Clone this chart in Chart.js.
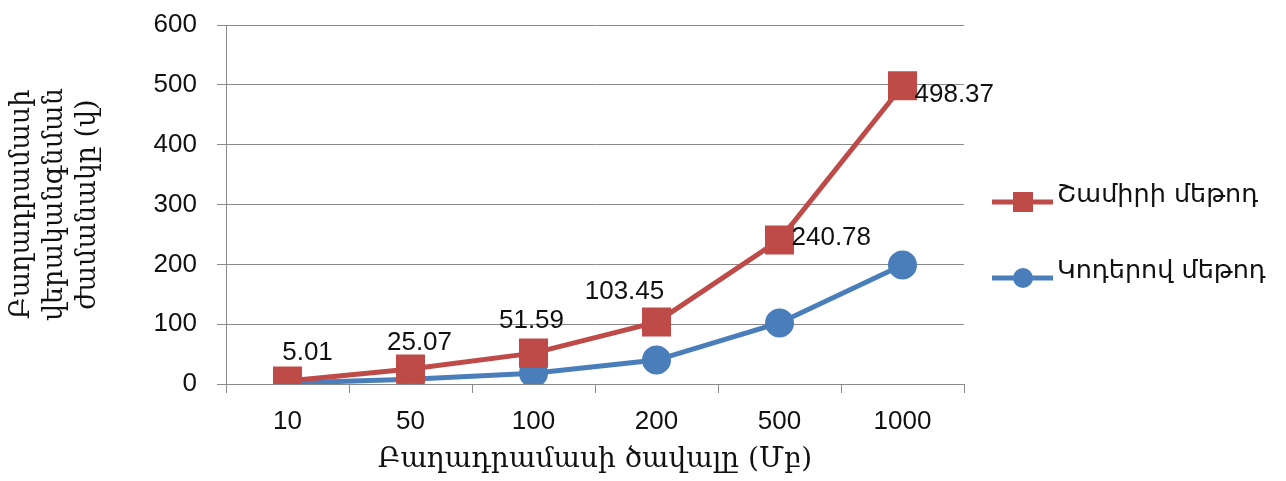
<!DOCTYPE html>
<html>
<head>
<meta charset="utf-8">
<script src="https://cdn.jsdelivr.net/npm/chart.js@4.4.1/dist/chart.umd.min.js"></script>
<style>
  html, body { margin: 0; padding: 0; background: #fff; }
  #wrap { width: 1286px; height: 481px; }
</style>
</head>
<body>
<div id="wrap"><canvas id="timeChart" width="1286" height="481"></canvas></div>
<script>
// component size (MB) and recovery time (s) for both methods
const categories = ['10', '50', '100', '200', '500', '1000'];
const shamirTimes = [5.01, 25.07, 51.59, 103.45, 240.78, 498.37];
const codeTimes = [1.5, 8, 18, 40, 102, 199];
const seriesNames = ['Շամիրի մեթոդ', 'Կոդերով մեթոդ'];

const RED = '#be4b48';
const BLUE = '#4a7ebb';
const GRID = '#8a8a8a';
const NUM_FONT = '"Liberation Sans", Arial, sans-serif';
const ARM_SANS = '"DejaVu Sans", sans-serif';
const ARM_SERIF = '"DejaVu Serif", serif';

// value labels on the red line; offsets are relative to each point
const valueLabels = {
  id: 'valueLabels',
  afterDatasetsDraw(chart, args, opts) {
    const ctx = chart.ctx;
    const meta = chart.getDatasetMeta(0);
    ctx.save();
    ctx.font = '26px ' + NUM_FONT;
    ctx.fillStyle = '#111';
    ctx.textBaseline = 'middle';
    meta.data.forEach((pt, i) => {
      const [dx, dy, align] = opts.offsets[i];
      ctx.textAlign = align;
      ctx.fillText(String(shamirTimes[i]), pt.x + dx, pt.y + dy);
    });
    ctx.restore();
  }
};

// legend on the right: short line with the series marker in the middle
const sideLegend = {
  id: 'sideLegend',
  afterDraw(chart) {
    const ctx = chart.ctx;
    const x0 = 992, x1 = 1053, mid = 1023;
    const rows = [202, 278];
    ctx.save();
    chart.data.datasets.forEach((ds, i) => {
      const y = rows[i];
      ctx.strokeStyle = ds.borderColor;
      ctx.lineWidth = 5;
      ctx.beginPath();
      ctx.moveTo(x0, y);
      ctx.lineTo(x1, y);
      ctx.stroke();
      ctx.fillStyle = ds.backgroundColor;
      if (ds.pointStyle === 'rect') {
        ctx.fillRect(mid - 10, y - 10, 20, 20);
      } else {
        ctx.beginPath();
        ctx.arc(mid, y, 10, 0, Math.PI * 2);
        ctx.fill();
      }
      ctx.fillStyle = '#111';
      ctx.font = '25.5px ' + ARM_SANS;
      ctx.textAlign = 'left';
      ctx.fillText(ds.label, 1057, y);
    });
    ctx.restore();
  }
};

const ctx = document.getElementById('timeChart').getContext('2d');
const timeChart = new Chart(ctx, {
  type: 'line',
  data: {
    labels: categories,
    datasets: [{
      label: seriesNames[0],
      data: shamirTimes,
      borderColor: RED,
      backgroundColor: RED,
      borderWidth: 5,
      pointStyle: 'rect',
      pointRadius: 17,
      pointHoverRadius: 17,
      tension: 0
    }, {
      label: seriesNames[1],
      data: codeTimes,
      borderColor: BLUE,
      backgroundColor: BLUE,
      borderWidth: 5,
      pointStyle: 'circle',
      pointRadius: 12,
      pointHoverRadius: 12,
      tension: 0
    }]
  },
  options: {
    responsive: false,
    animation: false,
    layout: {
      autoPadding: false,
      padding: { left: 6, top: 25, right: 322, bottom: 4 }
    },
    plugins: {
      legend: { display: false },
      tooltip: { enabled: false },
      valueLabels: {
        offsets: [
          [20, -28, 'center'],
          [9, -26, 'center'],
          [-2, -32, 'center'],
          [-32, -30, 'center'],
          [12, -2, 'left'],
          [12, 9, 'left']
        ]
      }
    },
    scales: {
      x: {
        offset: true,
        afterFit: s => { s.height = 93; s.paddingLeft = 0; s.paddingRight = 0; },
        grid: {
          offset: true,
          drawOnChartArea: false,
          drawTicks: true,
          tickLength: 9,
          color: GRID
        },
        border: { color: GRID, width: 1 },
        ticks: {
          font: { family: NUM_FONT, size: 26 },
          color: '#111',
          padding: 13
        },
        title: {
          display: true,
          text: 'Բաղադրամասի ծավալը (Մբ)',
          font: { family: ARM_SERIF, size: 28 },
          color: '#111',
          padding: { top: 0, bottom: 0 }
        }
      },
      y: {
        min: 0,
        max: 600,
        // keep the plot edges fixed instead of reserving room for tick labels
        afterFit: s => { s.width = 220; s.paddingTop = 0; s.paddingBottom = 0; },
        ticks: {
          stepSize: 100,
          font: { family: NUM_FONT, size: 26 },
          color: '#111',
          padding: 20
        },
        grid: { color: GRID, drawTicks: true, tickLength: 9 },
        border: { color: GRID, width: 1 },
        title: {
          display: true,
          text: ['Բաղադրամասի', 'վերականգնման', 'ժամանակը (վ)'],
          font: { family: ARM_SERIF, size: 27, lineHeight: 1.22 },
          color: '#111',
          padding: { top: 0, bottom: 4 }
        }
      }
    }
  },
  plugins: [valueLabels, sideLegend]
});
</script>
</body>
</html>
